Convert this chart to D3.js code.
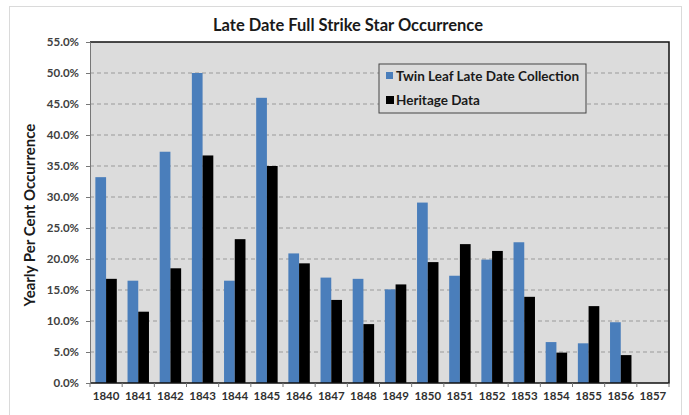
<!DOCTYPE html>
<html><head><meta charset="utf-8">
<script src="https://cdn.jsdelivr.net/npm/d3@7"></script>
<style>
html,body{margin:0;padding:0;background:#fff;}
svg{display:block;font-family:Lato,"Open Sans",sans-serif;}
</style></head>
<body>
<svg id="c" width="689" height="415"></svg>
<script>
const years = ["1840","1841","1842","1843","1844","1845","1846","1847","1848","1849","1850","1851","1852","1853","1854","1855","1856","1857"];
const twinLeaf = [33.2,16.5,37.3,50.0,16.5,46.0,20.9,17.0,16.8,15.1,29.1,17.3,19.9,22.7,6.6,6.4,9.8,null];
const heritage = [16.8,11.5,18.5,36.7,23.2,35.0,19.3,13.4,9.5,15.9,19.5,22.4,21.3,13.9,4.9,12.4,4.5,null];
const seriesNames = ["Twin Leaf Late Date Collection","Heritage Data"];
const seriesColors = ["#4a7ebb","#000000"];
const yTicks = [0,5,10,15,20,25,30,35,40,45,50,55];

const svg = d3.select("#c");
const M = {l:90, r:689-669, t:42, b:415-383};
const W = 689, H = 415;

// outer chart frame
svg.append("rect").attr("x",9.5).attr("y",6.5).attr("width",672).attr("height",420)
  .attr("fill","#fff").attr("stroke","#dadada").attr("stroke-width",1);

const x = d3.scaleBand().domain(years).range([M.l, W-M.r]).paddingInner(0).paddingOuter(0);
const y = d3.scaleLinear().domain([0,55]).range([H-M.b, M.t]);

// plot area
svg.append("rect").attr("x",M.l).attr("y",M.t).attr("width",W-M.l-M.r).attr("height",H-M.t-M.b)
  .attr("fill","#dcdcdc");

// gridlines
svg.append("g").selectAll("line").data(yTicks.filter(d=>d>0&&d<55)).join("line")
  .attr("x1",M.l).attr("x2",W-M.r).attr("y1",d=>y(d)).attr("y2",d=>y(d))
  .attr("stroke","#9a9a9a").attr("stroke-width",1).attr("stroke-dasharray","4,3");

// bars
const bw = x.bandwidth()/3;
const data = years.map((yr,i)=>({yr, vals:[twinLeaf[i],heritage[i]]}));
const g = svg.append("g");
data.forEach(d=>{
  d.vals.forEach((v,k)=>{
    if(v==null) return;
    g.append("rect")
      .attr("x", x(d.yr) + bw/2 + k*bw)
      .attr("y", y(v))
      .attr("width", bw)
      .attr("height", y(0)-y(v))
      .attr("fill", seriesColors[k]);
  });
});

// plot border top/right/bottom
svg.append("path")
  .attr("d",`M${M.l},${M.t}H${W-M.r}V${H-M.b}H${M.l}`)
  .attr("fill","none").attr("stroke","#111").attr("stroke-width",1.5);

// y axis
const yAxis = d3.axisLeft(y).tickValues(yTicks).tickSize(4).tickFormat(d=>d.toFixed(1)+"%");
const ya = svg.append("g").attr("transform",`translate(${M.l},0)`).call(yAxis);
ya.select(".domain").attr("stroke","#777");
ya.selectAll(".tick line").attr("stroke","#777");
ya.selectAll("text").attr("font-size",11.5).attr("font-weight","bold").attr("fill","#404040").attr("dx",-4)
  .attr("font-family","Lato, sans-serif");

// x axis
const xa = svg.append("g").attr("transform",`translate(0,${H-M.b})`)
  .call(d3.axisBottom(x).tickSize(0).tickPadding(9));
xa.select(".domain").remove();
xa.selectAll("text").attr("font-size",11.5).attr("font-weight","bold").attr("fill","#303030")
  .attr("font-family","Lato, sans-serif");
// category separators ticks
svg.append("g").selectAll("line").data(years.concat(["end"])).join("line")
  .attr("x1",(d,i)=>M.l+i*x.bandwidth()).attr("x2",(d,i)=>M.l+i*x.bandwidth())
  .attr("y1",H-M.b).attr("y2",H-M.b+4).attr("stroke","#777");

// title
svg.append("text").attr("x",348).attr("y",31).attr("text-anchor","middle")
  .attr("font-size",16.5).attr("font-weight","bold").attr("fill","#1a1a1a")
  .text("Late Date Full Strike Star Occurrence");

// y title
svg.append("text").attr("transform","translate(35,215) rotate(-90)").attr("text-anchor","middle")
  .attr("font-size",15).attr("font-weight","bold").attr("fill","#1a1a1a")
  .text("Yearly Per Cent Occurrence");

// legend
const lg = svg.append("g");
lg.append("rect").attr("x",379).attr("y",64).attr("width",207).attr("height",49)
  .attr("fill","#dcdcdc").attr("stroke","#444").attr("stroke-width",1);
seriesNames.forEach((n,i)=>{
  const yy = 76 + i*24;
  lg.append("rect").attr("x",386).attr("y",yy-4).attr("width",i==0?7:8).attr("height",i==0?7:8).attr("fill",seriesColors[i]);
  lg.append("text").attr("x",396).attr("y",yy+4.5).attr("font-size",13.5).attr("font-weight","bold")
    .attr("fill","#1a1a1a").text(n);
});
</script>
</body></html>
